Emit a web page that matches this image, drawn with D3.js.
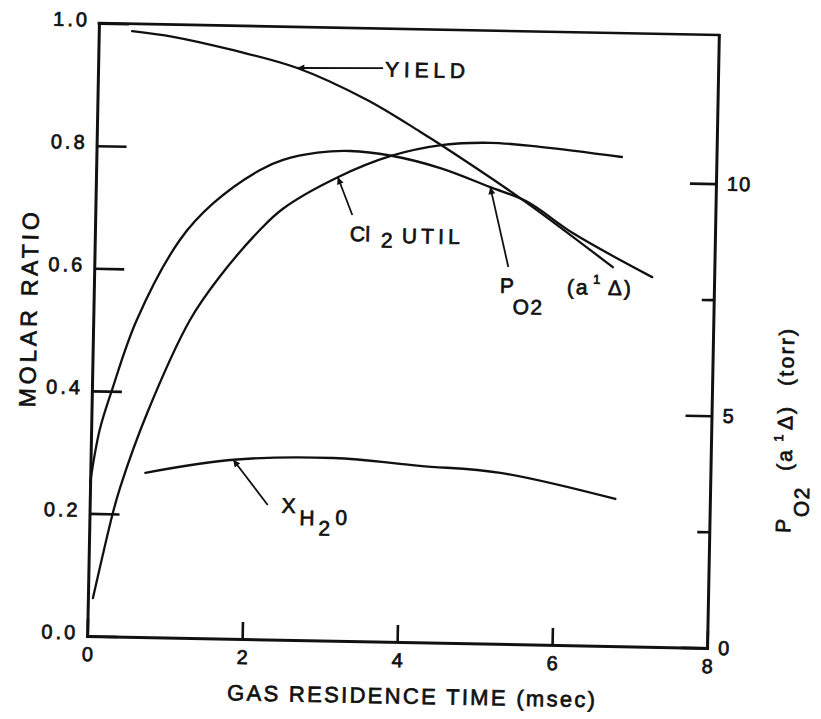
<!DOCTYPE html>
<html>
<head>
<meta charset="utf-8">
<script src="https://cdn.jsdelivr.net/npm/d3@7"></script>
<style>
  html, body { margin: 0; padding: 0; background: #fff; }
  text { font-family: "Liberation Sans", Arial, Helvetica, sans-serif; fill: #111; stroke: #111; stroke-width: 0.7px; }
</style>
</head>
<body>
<svg id="chart" width="821" height="719"></svg>
<script>
// Gas residence time (msec) and the quantities plotted against it
const yieldTime  = [0.43, 0.96, 1.74, 2.57, 3.48, 4.17, 4.47, 5.51, 6.69];
const yieldRatio = [0.988, 0.980, 0.960, 0.933, 0.883, 0.833, 0.810, 0.725, 0.618];

const cl2Time = [0.065, 0.30, 0.39, 0.72, 1.25, 1.62, 2.13, 2.42, 3.12, 3.79, 4.47, 5.08, 5.72, 6.78];
const cl2Util = [0.062, 0.201, 0.244, 0.366, 0.519, 0.590, 0.668, 0.703, 0.756, 0.792, 0.812, 0.817, 0.812, 0.798];

// singlet oxygen partial pressure, torr (right axis)
const po2Time = [0.0, 0.11, 0.26, 0.56, 1.10, 1.52, 2.11, 2.41, 2.85, 3.27, 3.79, 4.44, 5.09, 5.57, 6.17, 7.20];
const po2Torr = [3.30, 4.44, 5.31, 6.82, 8.57, 9.37, 10.10, 10.33, 10.50, 10.55, 10.47, 10.22, 9.83, 9.53, 8.87, 7.96];

const h2oTime = [0.71, 1.84, 3.13, 4.25, 5.29, 6.78];
const h2oFrac = [0.268, 0.292, 0.298, 0.288, 0.279, 0.240];

const xTicks = [0, 2, 4, 6, 8];
const yTicks = [0, 0.2, 0.4, 0.6, 0.8, 1.0];
const y2Ticks = [0, 2.5, 5, 7.5, 10];
const y2Labeled = [0, 5, 10];

const svg = d3.select("#chart");
const ink = "#111";

const defs = svg.append("defs");
defs.append("marker")
  .attr("id", "head")
  .attr("viewBox", "0 0 10 10")
  .attr("refX", 10).attr("refY", 5)
  .attr("markerUnits", "userSpaceOnUse")
  .attr("markerWidth", 15).attr("markerHeight", 7)
  .attr("orient", "auto")
  .append("path").attr("d", "M0,0 L10,5 L0,10 Z").attr("fill", ink);

// whole figure sits slightly tilted on the page
const g = svg.append("g").attr("transform", "rotate(1.1,403,335.5)");

const x  = d3.scaleLinear().domain([0, 8]).range([93, 713]);
const y  = d3.scaleLinear().domain([0, 1]).range([642, 29]);
const y2 = d3.scaleLinear().domain([0, 13.2]).range([642, 29]);

function styleAxis(sel, size, spacing) {
  sel.attr("font-family", null).attr("font-size", null);
  sel.select(".domain").attr("stroke", ink).attr("stroke-width", 3).attr("stroke-linecap", "square");
  sel.selectAll(".tick line").attr("stroke", ink).attr("stroke-width", 2.6);
  sel.selectAll(".tick text").style("font-size", size + "px").style("letter-spacing", spacing + "px");
}

// bottom axis
const xAxisG = g.append("g")
  .attr("transform", `translate(0,${y(0)})`)
  .call(d3.axisBottom(x).tickValues(xTicks).tickSizeInner(-17).tickSizeOuter(0)
    .tickPadding(11).tickFormat(d3.format("d")));
styleAxis(xAxisG, 20, 0);

// left axis: molar ratio
const yAxisG = g.append("g")
  .attr("transform", `translate(${x(0)},0)`)
  .call(d3.axisLeft(y).tickValues(yTicks).tickSizeInner(-30).tickSizeOuter(0)
    .tickPadding(9).tickFormat(d3.format(".1f")));
styleAxis(yAxisG, 20, 3);
yAxisG.selectAll(".tick text").attr("dy", "0.15em");

// right axis: P_O2 in torr
const y2AxisG = g.append("g")
  .attr("transform", `translate(${x(8)},0)`)
  .call(d3.axisRight(y2).tickValues(y2Ticks).tickSizeInner(-26).tickSizeOuter(0)
    .tickPadding(11).tickFormat(d => y2Labeled.includes(d) ? d3.format("d")(d) : ""));
styleAxis(y2AxisG, 20, 1);
y2AxisG.selectAll(".tick").filter(d => !y2Labeled.includes(d)).select("line").attr("x2", -12);

// top edge of the frame
g.append("line")
  .attr("x1", x(0)).attr("x2", x(8)).attr("y1", y(1)).attr("y2", y(1))
  .attr("stroke", ink).attr("stroke-width", 2.6).attr("stroke-linecap", "square");

// curves
function curve(xs, ys, scaleY) {
  return d3.line()
    .x((d, i) => x(xs[i]))
    .y((d, i) => scaleY(ys[i]))
    .curve(d3.curveCatmullRom.alpha(0.5))(xs);
}
const curves = [
  [yieldTime, yieldRatio, y],
  [cl2Time, cl2Util, y],
  [po2Time, po2Torr, y2],
  [h2oTime, h2oFrac, y]
];
g.selectAll("path.series").data(curves).join("path")
  .attr("class", "series")
  .attr("d", d => curve(d[0], d[1], d[2]))
  .attr("fill", "none").attr("stroke", ink).attr("stroke-width", 2.3)
  .attr("stroke-linecap", "round").attr("stroke-linejoin", "round");

// annotation arrows, tips placed on the curves
function arrow(x1, y1, x2, y2p) {
  g.append("line").attr("x1", x1).attr("y1", y1).attr("x2", x2).attr("y2", y2p)
    .attr("stroke", ink).attr("stroke-width", 1.8).attr("marker-end", "url(#head)");
}
arrow(378, 68.5, x(yieldTime[3]), y(yieldRatio[3]));
arrow(350, 216, x(cl2Time[8]), y(cl2Util[8]));
arrow(507, 265, x(po2Time[12]), y2(po2Torr[12]));
arrow(271, 507.5, x(h2oTime[1]), y(h2oFrac[1]));

const labelSize = 21;
function label(tx, ty, str, size) {
  return g.append("text").attr("x", tx).attr("y", ty).text(str)
    .style("font-size", (size || labelSize) + "px");
}
label(380, 77, "YIELD").attr("textLength", 80).attr("lengthAdjust", "spacing");

label(348, 242, "Cl").attr("textLength", 20).attr("lengthAdjust", "spacing");
label(379, 248, "2");
label(400, 243, "UTIL").attr("textLength", 58).attr("lengthAdjust", "spacing");

label(499, 291, "P");
label(512, 312, "O2").style("letter-spacing", "1.5px");
label(566, 291, "(a").style("letter-spacing", "2px");
label(592, 280, "1", 13);
label(607, 291, "Δ)").style("letter-spacing", "2px");

label(285, 515, "X");
label(303, 527, "H");
label(322, 537, "2");
label(339, 526, "0");

// axis titles
g.append("text")
  .attr("transform", "translate(418,703.5)")
  .attr("text-anchor", "middle")
  .attr("textLength", 368).attr("lengthAdjust", "spacing")
  .style("font-size", "22px")
  .text("GAS RESIDENCE TIME (msec)");

g.append("text")
  .attr("transform", "translate(36.5,317) rotate(-90)")
  .attr("text-anchor", "middle")
  .attr("textLength", 195).attr("lengthAdjust", "spacing")
  .style("font-size", "23px")
  .text("MOLAR RATIO");

const rt = g.append("text")
  .attr("transform", "translate(794,525.5) rotate(-90)")
  .style("font-size", "21px");
rt.append("tspan").attr("x", 0).attr("y", 0).text("P");
rt.append("tspan").attr("x", 16).attr("y", 18).style("letter-spacing", "1.5px").text("O2");
rt.append("tspan").attr("x", 62).attr("y", 0).style("letter-spacing", "2px").text("(a");
rt.append("tspan").attr("x", 91).attr("y", -9).style("font-size", "13px").text("1");
rt.append("tspan").attr("x", 103).attr("y", 0).style("letter-spacing", "2px").text("Δ)");
rt.append("tspan").attr("x", 147).attr("y", 0).attr("textLength", 57).attr("lengthAdjust", "spacing").text("(torr)");
</script>
</body>
</html>
